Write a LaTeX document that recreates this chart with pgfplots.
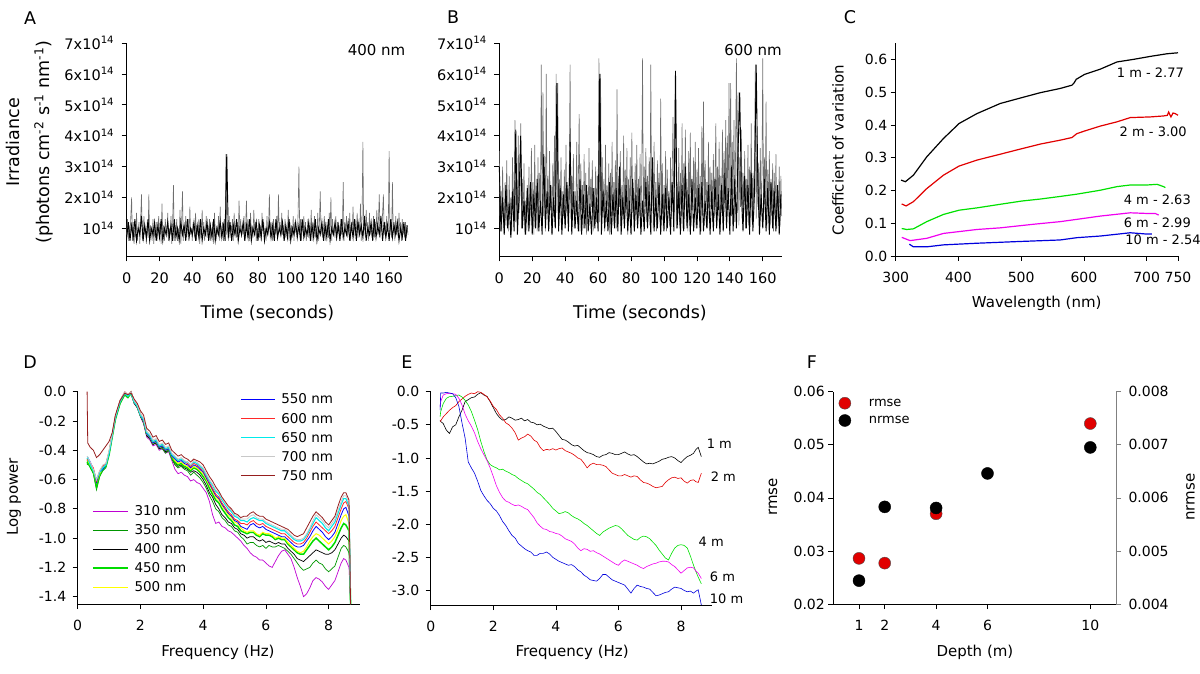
\documentclass[border=0pt]{standalone}
\usepackage{pgfplots}
\usepackage{pgfplotstable}
\pgfplotsset{compat=1.18}
\usepackage{fontspec}
\setmainfont{DejaVu Sans}

\definecolor{dViolet}{RGB}{190,0,210}
\definecolor{dGreen}{RGB}{0,150,0}
\definecolor{dLime}{RGB}{0,220,0}
\definecolor{dYellow}{RGB}{255,255,0}
\definecolor{dBlue}{RGB}{0,0,255}
\definecolor{dRed}{RGB}{255,40,40}
\definecolor{dCyan}{RGB}{0,235,235}
\definecolor{dGray}{RGB}{200,200,200}
\definecolor{dBrown}{RGB}{150,30,30}
\definecolor{cRed}{RGB}{225,0,0}
\definecolor{cGreen}{RGB}{0,225,0}
\definecolor{cMag}{RGB}{240,0,240}
\definecolor{cBlue}{RGB}{0,0,220}
\definecolor{tsGray}{RGB}{110,110,110}

% time series (gray trace), irradiance in units of 1e13
\pgfplotstableread{
t a b
0 8 35
0.5 13 12
1 6 22
1.5 11 9
2 7 30
2.5 14 14
3 20 8
3.5 6 25
4 12 11
4.5 5 32
5 10 16
5.5 7 9
6 15 27
6.5 6 13
7 9 20
7.5 12 8
8 5 33
8.5 13 15
9 21 24
9.5 7 45
10 6 12
10.5 14 28
11 8 9
11.5 10 40
12 5 15
12.5 12 22
13 7 44
13.5 21 10
14 6 26
14.5 11 14
15 9 31
15.5 6 8
16 13 19
16.5 5 12
17 10 24
17.5 7 9
18 12 30
18.5 6 11
19 9 17
19.5 14 36
20 7 13
20.5 12 25
21 5 8
21.5 18 37
22 8 15
22.5 11 22
23 6 9
23.5 13 33
24 9 12
24.5 7 28
25 15 16
25.5 6 63
26 10 10
26.5 8 54
27 14 14
27.5 5 30
28 12 9
28.5 24 60
29 6 18
29.5 11 27
30 8 12
30.5 13 35
31 6 16
31.5 10 24
32 7 8
32.5 16 31
33 5 14
33.5 12 40
34 22 11
34.5 6 60
35 11 15
35.5 8 57
36 14 9
36.5 7 26
37 9 18
37.5 13 33
38 6 10
38.5 17 22
39 8 14
39.5 10 29
40 6 11
40.5 12 37
41 9 15
41.5 7 24
42 15 9
42.5 6 30
43 11 63
43.5 8 13
44 13 27
44.5 5 17
45 10 34
45.5 7 10
46 16 22
46.5 8 14
47 12 38
47.5 6 12
48 9 25
48.5 14 47
49 7 9
49.5 11 31
50 8 16
50.5 13 24
51 6 10
51.5 10 34
52 7 13
52.5 12 28
53 5 8
53.5 15 21
54 9 15
54.5 6 36
55 11 11
55.5 8 26
56 14 17
56.5 6 32
57 17 9
57.5 7 23
58 10 14
58.5 12 30
59 6 12
59.5 13 27
60 9 18
60.5 34 65
61 8 12
61.5 12 60
62 6 10
62.5 14 33
63 7 15
63.5 11 26
64 9 9
64.5 13 37
65 6 12
65.5 15 24
66 8 16
66.5 10 31
67 7 8
67.5 12 28
68 6 14
68.5 19 38
69 9 11
69.5 13 25
70 7 15
70.5 11 32
71 8 10
71.5 14 55
72 6 13
72.5 10 27
73 19 17
73.5 7 35
74 13 9
74.5 9 24
75 6 14
75.5 15 40
76 8 11
76.5 11 29
77 7 16
77.5 16 36
78 9 8
78.5 12 26
79 6 13
79.5 10 33
80 8 12
80.5 13 41
81 7 15
81.5 11 23
82 6 9
82.5 15 31
83 9 16
83.5 12 37
84 7 11
84.5 10 26
85 6 14
85.5 14 34
86 8 10
86.5 11 28
87 21 65
87.5 7 13
88 12 30
88.5 9 17
89 6 36
89.5 13 12
90 7 27
90.5 10 15
91 8 33
91.5 14 11
92 6 63
92.5 21 16
93 9 29
93.5 12 10
94 7 38
94.5 15 14
95 8 25
95.5 11 9
96 6 32
96.5 13 17
97 7 28
97.5 10 12
98 9 52
98.5 16 15
99 6 31
99.5 12 10
100 8 24
100.5 11 13
101 7 35
101.5 14 9
102 6 29
102.5 12 16
103 9 22
103.5 10 11
104 7 33
104.5 15 14
105 30 27
105.5 8 46
106 13 12
106.5 6 30
107 11 61
107.5 9 10
108 14 25
108.5 7 15
109 12 36
109.5 6 11
110 9 28
110.5 13 14
111 7 44
111.5 11 10
112 8 31
112.5 16 16
113 6 42
113.5 12 12
114 9 26
114.5 14 9
115 7 35
115.5 10 15
116 8 41
116.5 15 11
117 6 24
117.5 12 17
118 22 33
118.5 8 13
119 11 38
119.5 7 10
120 10 29
120.5 14 15
121 6 36
121.5 12 12
122 8 27
122.5 11 9
123 7 43
123.5 15 14
124 9 51
124.5 20 11
125 6 32
125.5 13 16
126 8 25
126.5 10 10
127 7 38
127.5 14 13
128 6 30
128.5 12 17
129 9 28
129.5 11 12
130 7 34
130.5 13 14
131 8 26
131.5 10 44
132 25 11
132.5 6 30
133 12 16
133.5 9 38
134 14 10
134.5 7 27
135 11 15
135.5 8 42
136 15 12
136.5 6 35
137 12 18
137.5 9 45
138 17 13
138.5 7 40
139 13 16
139.5 8 57
140 9 20
140.5 15 57
141 7 14
141.5 12 38
142 8 19
142.5 18 45
143 6 12
143.5 14 36
144 38 65
144.5 8 15
145 13 54
145.5 7 11
146 16 33
146.5 9 17
147 12 42
147.5 6 13
148 15 28
148.5 8 16
149 11 35
149.5 7 10
150 10 26
150.5 14 14
151 7 37
151.5 12 11
152 9 30
152.5 16 16
153 8 44
153.5 13 12
154 21 28
154.5 7 15
155 11 34
155.5 9 63
156 15 13
156.5 21 40
157 8 17
157.5 12 31
158 7 10
158.5 14 36
159 9 14
159.5 11 27
160 35 65
160.5 8 12
161 13 33
161.5 7 16
162 25 51
162.5 9 10
163 12 29
163.5 6 15
164 14 35
164.5 8 11
165 11 26
165.5 7 14
166 15 31
166.5 9 9
167 12 28
167.5 6 13
168 13 34
168.5 8 10
169 10 24
169.5 7 12
170 12 30
170.5 7 11
171 11 27
171.5 8 14
}\tabAB

% black core trace, units of 1e13
\pgfplotstableread{
t ca cb
0 7 30
1 12 9
2 6 20
3 11 8
4 7 24
5 13 10
6 6 18
7 10 7
8 8 22
9 14 9
10 6 42
11 11 8
12 7 21
13 13 40
14 6 10
15 10 19
16 8 8
17 12 23
18 6 9
19 11 25
20 7 8
21 13 21
22 6 10
23 10 26
24 8 9
25 12 19
26 7 8
27 11 34
28 6 10
29 13 22
30 7 9
31 10 24
32 6 8
33 12 20
34 8 10
35 11 57
36 6 9
37 13 23
38 7 8
39 10 21
40 8 10
41 12 25
42 6 9
43 11 38
44 7 8
45 13 22
46 6 10
47 10 19
48 8 9
49 12 26
50 6 8
51 11 21
52 7 10
53 13 24
54 6 9
55 10 18
56 8 8
57 12 23
58 7 10
59 11 20
60 6 9
61 34 60
62 7 8
63 12 22
64 6 10
65 11 19
66 8 9
67 13 25
68 6 8
69 10 21
70 8 10
71 12 23
72 6 9
73 11 30
74 7 8
75 13 20
76 6 10
77 10 24
78 8 9
79 12 19
80 6 8
81 11 26
82 7 9
83 13 21
84 6 10
85 10 23
86 8 8
87 12 19
88 7 9
89 11 25
90 6 10
91 13 22
92 7 8
93 10 33
94 8 9
95 12 20
96 6 10
97 11 24
98 7 8
99 13 21
100 6 9
101 10 23
102 8 10
103 12 20
104 7 8
105 11 25
106 6 9
107 13 61
108 7 10
109 10 22
110 8 8
111 12 24
112 6 9
113 11 30
114 7 10
115 13 21
116 6 8
117 10 26
118 8 9
119 12 20
120 6 10
121 11 23
122 7 8
123 13 25
124 6 9
125 10 19
126 8 10
127 12 24
128 7 8
129 11 22
130 6 9
131 13 26
132 7 10
133 10 21
134 8 8
135 12 24
136 6 9
137 11 28
138 7 10
139 13 23
140 6 8
141 12 30
142 8 9
143 11 26
144 7 10
145 14 35
146 6 54
147 10 22
148 8 9
149 12 27
150 6 10
151 13 24
152 7 8
153 11 28
154 8 9
155 14 22
156 6 63
157 12 25
158 7 8
159 11 21
160 6 10
161 13 26
162 7 9
163 11 23
164 8 8
165 12 25
166 6 10
167 10 22
168 7 9
169 12 24
170 6 8
171 11 21
}\tabCore

\pgfplotstableread{
f w310 w350 w400 w450 w500 w550 w600 w650 w700 w750
0.30 -0.48 -0.50 -0.47 -0.49 -0.46 -0.45 -0.47 -0.46 -0.44 0.00
0.32 -0.47 -0.49 -0.46 -0.48 -0.47 -0.45 -0.46 -0.45 -0.45 -0.35
0.40 -0.50 -0.52 -0.49 -0.51 -0.50 -0.48 -0.49 -0.50 -0.48 -0.38
0.50 -0.55 -0.56 -0.54 -0.55 -0.54 -0.53 -0.52 -0.54 -0.53 -0.40
0.60 -0.66 -0.67 -0.63 -0.65 -0.62 -0.62 -0.61 -0.60 -0.60 -0.45
0.70 -0.56 -0.58 -0.55 -0.57 -0.56 -0.55 -0.54 -0.55 -0.54 -0.43
0.80 -0.52 -0.54 -0.53 -0.53 -0.52 -0.53 -0.51 -0.52 -0.50 -0.40
0.90 -0.51 -0.52 -0.50 -0.51 -0.50 -0.50 -0.49 -0.50 -0.49 -0.37
1.00 -0.42 -0.43 -0.42 -0.43 -0.41 -0.42 -0.41 -0.42 -0.40 -0.34
1.10 -0.31 -0.31 -0.30 -0.31 -0.30 -0.30 -0.29 -0.30 -0.29 -0.28
1.20 -0.18 -0.19 -0.18 -0.19 -0.17 -0.18 -0.17 -0.18 -0.17 -0.16
1.35 -0.08 -0.08 -0.07 -0.08 -0.07 -0.07 -0.06 -0.07 -0.06 -0.06
1.50 -0.02 -0.01 -0.01 -0.02 -0.01 -0.01 0.00 -0.01 0.00 -0.01
1.60 -0.04 -0.03 -0.03 -0.04 -0.03 -0.03 -0.02 -0.03 -0.02 -0.02
1.70 -0.01 0.00 -0.01 -0.01 0.00 0.00 0.00 -0.01 0.00 -0.01
1.80 -0.08 -0.07 -0.08 -0.07 -0.07 -0.07 -0.06 -0.07 -0.06 -0.05
1.90 -0.11 -0.10 -0.11 -0.10 -0.10 -0.10 -0.09 -0.10 -0.09 -0.08
2.00 -0.17 -0.16 -0.17 -0.16 -0.16 -0.16 -0.15 -0.16 -0.15 -0.13
2.10 -0.22 -0.21 -0.21 -0.20 -0.20 -0.20 -0.19 -0.19 -0.18 -0.16
2.20 -0.31 -0.30 -0.30 -0.29 -0.29 -0.29 -0.28 -0.28 -0.27 -0.25
2.30 -0.33 -0.32 -0.32 -0.31 -0.31 -0.31 -0.30 -0.30 -0.29 -0.27
2.40 -0.37 -0.36 -0.36 -0.35 -0.35 -0.35 -0.34 -0.34 -0.33 -0.31
2.50 -0.36 -0.35 -0.35 -0.34 -0.34 -0.34 -0.33 -0.33 -0.32 -0.30
2.60 -0.40 -0.39 -0.39 -0.38 -0.38 -0.38 -0.37 -0.37 -0.36 -0.34
2.70 -0.39 -0.39 -0.38 -0.37 -0.37 -0.37 -0.36 -0.36 -0.35 -0.33
2.80 -0.42 -0.42 -0.41 -0.40 -0.40 -0.40 -0.39 -0.39 -0.38 -0.36
2.90 -0.41 -0.40 -0.40 -0.39 -0.39 -0.39 -0.38 -0.38 -0.37 -0.35
3.00 -0.47 -0.46 -0.45 -0.45 -0.44 -0.44 -0.43 -0.43 -0.42 -0.40
3.10 -0.53 -0.50 -0.49 -0.48 -0.47 -0.46 -0.45 -0.45 -0.44 -0.42
3.20 -0.56 -0.52 -0.51 -0.50 -0.49 -0.48 -0.47 -0.47 -0.46 -0.44
3.30 -0.55 -0.51 -0.50 -0.49 -0.48 -0.47 -0.46 -0.46 -0.45 -0.43
3.40 -0.57 -0.53 -0.52 -0.51 -0.50 -0.49 -0.48 -0.48 -0.47 -0.45
3.50 -0.58 -0.54 -0.53 -0.52 -0.51 -0.50 -0.49 -0.48 -0.48 -0.46
3.60 -0.61 -0.57 -0.55 -0.54 -0.53 -0.52 -0.51 -0.50 -0.50 -0.48
3.70 -0.60 -0.55 -0.54 -0.52 -0.51 -0.50 -0.49 -0.48 -0.47 -0.46
3.80 -0.62 -0.57 -0.55 -0.53 -0.52 -0.51 -0.50 -0.49 -0.48 -0.47
3.90 -0.63 -0.59 -0.57 -0.55 -0.54 -0.53 -0.52 -0.51 -0.50 -0.48
4.00 -0.66 -0.62 -0.60 -0.58 -0.56 -0.55 -0.54 -0.53 -0.52 -0.50
4.10 -0.69 -0.66 -0.64 -0.61 -0.60 -0.59 -0.58 -0.57 -0.56 -0.54
4.20 -0.75 -0.71 -0.69 -0.66 -0.64 -0.63 -0.62 -0.61 -0.60 -0.58
4.30 -0.84 -0.75 -0.72 -0.70 -0.68 -0.67 -0.66 -0.64 -0.63 -0.61
4.40 -0.90 -0.80 -0.77 -0.74 -0.72 -0.71 -0.70 -0.68 -0.67 -0.65
4.50 -0.89 -0.82 -0.80 -0.76 -0.74 -0.73 -0.72 -0.70 -0.69 -0.68
4.60 -0.92 -0.86 -0.84 -0.80 -0.78 -0.77 -0.76 -0.74 -0.73 -0.72
4.70 -0.93 -0.88 -0.86 -0.83 -0.81 -0.80 -0.79 -0.77 -0.76 -0.75
4.80 -0.95 -0.91 -0.89 -0.86 -0.84 -0.83 -0.82 -0.80 -0.79 -0.78
4.90 -0.96 -0.92 -0.90 -0.88 -0.86 -0.85 -0.84 -0.82 -0.81 -0.80
5.00 -0.98 -0.95 -0.93 -0.91 -0.89 -0.88 -0.87 -0.85 -0.84 -0.83
5.10 -1.00 -0.96 -0.94 -0.92 -0.90 -0.89 -0.88 -0.86 -0.85 -0.84
5.20 -1.02 -0.99 -0.97 -0.95 -0.93 -0.92 -0.90 -0.88 -0.87 -0.86
5.30 -1.05 -1.01 -0.98 -0.96 -0.95 -0.93 -0.90 -0.88 -0.87 -0.85
5.40 -1.07 -1.04 -1.00 -0.97 -0.96 -0.94 -0.91 -0.89 -0.87 -0.85
5.50 -1.10 -1.03 -0.99 -0.96 -0.95 -0.91 -0.89 -0.87 -0.85 -0.83
5.60 -1.12 -1.03 -0.99 -0.96 -0.95 -0.90 -0.88 -0.86 -0.84 -0.82
5.70 -1.13 -1.05 -1.01 -0.98 -0.97 -0.92 -0.90 -0.87 -0.86 -0.84
5.80 -1.15 -1.06 -1.02 -0.99 -0.98 -0.93 -0.91 -0.88 -0.87 -0.85
5.90 -1.15 -1.05 -1.01 -0.97 -0.96 -0.92 -0.90 -0.88 -0.87 -0.85
6.00 -1.17 -1.07 -1.03 -0.98 -0.97 -0.94 -0.92 -0.90 -0.89 -0.87
6.10 -1.19 -1.05 -1.02 -0.98 -0.97 -0.95 -0.93 -0.91 -0.90 -0.88
6.20 -1.20 -1.06 -1.03 -0.99 -0.98 -0.96 -0.94 -0.92 -0.91 -0.89
6.30 -1.16 -1.06 -1.04 -1.01 -1.00 -0.97 -0.95 -0.93 -0.92 -0.90
6.40 -1.12 -1.05 -1.03 -1.00 -0.99 -0.98 -0.96 -0.94 -0.93 -0.91
6.50 -1.09 -1.06 -1.04 -1.01 -1.00 -0.99 -0.97 -0.95 -0.94 -0.92
6.60 -1.08 -1.07 -1.04 -1.01 -1.00 -0.99 -0.97 -0.95 -0.94 -0.93
6.70 -1.11 -1.09 -1.07 -1.04 -1.03 -1.01 -0.99 -0.97 -0.96 -0.94
6.80 -1.14 -1.11 -1.09 -1.06 -1.05 -1.03 -1.01 -0.99 -0.98 -0.96
6.90 -1.20 -1.14 -1.11 -1.08 -1.07 -1.05 -1.03 -1.01 -1.00 -0.98
7.00 -1.27 -1.17 -1.14 -1.10 -1.09 -1.06 -1.04 -1.02 -1.01 -0.99
7.10 -1.33 -1.20 -1.15 -1.11 -1.10 -1.06 -1.04 -1.02 -1.01 -0.98
7.20 -1.40 -1.22 -1.16 -1.11 -1.09 -1.05 -1.03 -1.01 -1.00 -0.97
7.30 -1.38 -1.21 -1.14 -1.08 -1.06 -1.02 -1.00 -0.98 -0.97 -0.93
7.40 -1.34 -1.20 -1.12 -1.05 -1.02 -0.99 -0.96 -0.94 -0.93 -0.89
7.50 -1.29 -1.17 -1.10 -1.02 -0.99 -0.95 -0.92 -0.90 -0.88 -0.85
7.60 -1.27 -1.15 -1.08 -1.00 -0.97 -0.92 -0.89 -0.86 -0.84 -0.82
7.70 -1.28 -1.17 -1.09 -1.02 -0.98 -0.94 -0.91 -0.88 -0.86 -0.84
7.80 -1.30 -1.18 -1.10 -1.04 -1.00 -0.96 -0.93 -0.90 -0.88 -0.86
7.90 -1.33 -1.21 -1.11 -1.06 -1.02 -0.99 -0.95 -0.93 -0.91 -0.89
8.00 -1.35 -1.23 -1.11 -1.08 -1.04 -1.01 -0.97 -0.95 -0.93 -0.91
8.10 -1.32 -1.21 -1.10 -1.06 -1.02 -0.99 -0.95 -0.92 -0.90 -0.88
8.20 -1.29 -1.19 -1.08 -1.03 -0.99 -0.96 -0.92 -0.89 -0.87 -0.85
8.30 -1.23 -1.13 -1.04 -0.98 -0.94 -0.90 -0.86 -0.83 -0.81 -0.78
8.40 -1.17 -1.07 -1.00 -0.93 -0.88 -0.84 -0.80 -0.77 -0.75 -0.72
8.48 -1.14 -1.05 -0.98 -0.90 -0.85 -0.80 -0.76 -0.73 -0.71 -0.69
8.55 -1.15 -1.06 -0.99 -0.91 -0.84 -0.79 -0.75 -0.73 -0.71 -0.69
8.65 -1.20 -1.10 -1.02 -0.95 -0.90 -0.85 -0.80 -0.78 -0.76 -0.74
8.70 -1.45 -1.45 -1.45 -1.45 -1.45 -1.45 -1.45 -1.45 -1.45 -1.45
}\tabD

\pgfplotstableread{
f m1 m2 m4 m6 m10
0.30 -0.43 -0.45 -0.38 -0.23 -0.28
0.32 -0.45 -0.44 -0.30 -0.15 -0.02
0.40 -0.48 -0.38 -0.18 -0.05 -0.02
0.50 -0.58 -0.33 -0.10 -0.03 -0.01
0.60 -0.63 -0.28 -0.075 -0.025 -0.02
0.70 -0.53 -0.24 -0.07 -0.03 -0.03
0.80 -0.50 -0.21 -0.06 -0.04 -0.09
0.90 -0.38 -0.15 -0.05 -0.10 -0.22
1.00 -0.28 -0.11 -0.08 -0.20 -0.47
1.10 -0.15 -0.07 -0.13 -0.34 -0.70
1.20 -0.12 -0.04 -0.20 -0.44 -1.06
1.30 -0.09 -0.02 -0.30 -0.52 -1.15
1.40 -0.08 -0.03 -0.43 -0.62 -1.23
1.50 -0.04 0.00 -0.57 -0.75 -1.35
1.60 -0.015 -0.01 -0.75 -0.86 -1.49
1.70 -0.05 -0.04 -0.90 -0.95 -1.57
1.80 -0.07 -0.08 -1.03 -1.04 -1.64
1.90 -0.15 -0.14 -1.10 -1.15 -1.69
2.00 -0.24 -0.22 -1.13 -1.28 -1.76
2.10 -0.33 -0.27 -1.15 -1.42 -1.80
2.20 -0.39 -0.35 -1.18 -1.52 -1.87
2.30 -0.43 -0.40 -1.17 -1.60 -1.96
2.40 -0.42 -0.47 -1.20 -1.65 -2.02
2.50 -0.38 -0.50 -1.22 -1.67 -2.10
2.60 -0.40 -0.55 -1.25 -1.70 -2.17
2.70 -0.43 -0.62 -1.27 -1.72 -2.21
2.80 -0.42 -0.73 -1.31 -1.71 -2.29
2.90 -0.40 -0.70 -1.34 -1.73 -2.33
3.00 -0.44 -0.68 -1.37 -1.76 -2.37
3.10 -0.42 -0.64 -1.39 -1.78 -2.40
3.20 -0.46 -0.67 -1.43 -1.84 -2.42
3.30 -0.47 -0.73 -1.47 -1.90 -2.47
3.40 -0.50 -0.76 -1.52 -1.98 -2.47
3.50 -0.49 -0.84 -1.55 -2.03 -2.44
3.60 -0.52 -0.89 -1.60 -2.07 -2.44
3.70 -0.54 -0.87 -1.65 -2.08 -2.42
3.80 -0.56 -0.88 -1.70 -2.11 -2.45
3.90 -0.55 -0.86 -1.76 -2.12 -2.50
4.00 -0.60 -0.88 -1.80 -2.14 -2.53
4.10 -0.66 -0.86 -1.84 -2.15 -2.56
4.20 -0.72 -0.85 -1.83 -2.18 -2.58
4.30 -0.73 -0.89 -1.81 -2.22 -2.60
4.40 -0.76 -0.91 -1.83 -2.24 -2.62
4.50 -0.80 -0.93 -1.87 -2.26 -2.61
4.60 -0.82 -0.96 -1.90 -2.30 -2.64
4.70 -0.81 -1.00 -1.92 -2.36 -2.69
4.80 -0.85 -1.02 -1.95 -2.40 -2.72
4.90 -0.89 -1.08 -1.99 -2.37 -2.77
5.00 -0.92 -1.15 -2.02 -2.38 -2.80
5.10 -0.93 -1.10 -2.06 -2.41 -2.84
5.20 -0.95 -1.08 -2.10 -2.40 -2.85
5.30 -0.98 -1.10 -2.14 -2.43 -2.86
5.40 -0.99 -1.10 -2.17 -2.45 -2.82
5.50 -0.96 -1.11 -2.12 -2.48 -2.76
5.60 -0.95 -1.13 -2.09 -2.51 -2.76
5.70 -0.92 -1.18 -2.06 -2.54 -2.80
5.80 -0.93 -1.23 -2.04 -2.57 -2.84
5.90 -0.95 -1.25 -2.02 -2.60 -2.86
6.00 -0.95 -1.27 -2.03 -2.62 -2.88
6.10 -0.93 -1.27 -2.07 -2.57 -2.90
6.20 -0.91 -1.25 -2.12 -2.54 -2.92
6.30 -0.94 -1.27 -2.17 -2.56 -2.98
6.40 -0.96 -1.29 -2.20 -2.58 -3.04
6.50 -0.95 -1.27 -2.23 -2.60 -2.97
6.60 -0.98 -1.28 -2.24 -2.62 -2.92
6.70 -1.02 -1.33 -2.20 -2.65 -2.94
6.80 -1.06 -1.37 -2.18 -2.67 -2.95
6.90 -1.09 -1.38 -2.19 -2.64 -2.97
7.00 -1.08 -1.40 -2.22 -2.62 -2.98
7.10 -1.09 -1.43 -2.27 -2.60 -3.03
7.20 -1.07 -1.45 -2.32 -2.59 -3.08
7.30 -1.05 -1.44 -2.39 -2.57 -3.07
7.40 -1.02 -1.43 -2.45 -2.56 -3.05
7.50 -1.01 -1.37 -2.51 -2.56 -3.03
7.60 -0.99 -1.33 -2.54 -2.57 -3.02
7.70 -0.98 -1.30 -2.44 -2.61 -2.98
7.80 -1.00 -1.29 -2.36 -2.64 -2.95
7.90 -1.04 -1.31 -2.32 -2.69 -2.96
8.00 -1.07 -1.30 -2.31 -2.74 -2.97
8.10 -1.02 -1.35 -2.32 -2.70 -3.00
8.20 -0.98 -1.38 -2.36 -2.66 -3.02
8.30 -0.96 -1.34 -2.48 -2.65 -3.01
8.40 -0.93 -1.33 -2.62 -2.66 -3.04
8.48 -0.87 -1.36 -2.72 -2.71 -3.01
8.55 -0.84 -1.37 -2.80 -2.74 -2.99
8.65 -0.98 -1.23 -2.90 -2.82 -3.22
}\tabE

\pgfplotsset{
  base/.style={
    scale only axis, anchor=south west, clip=false,
    axis x line*=bottom, axis y line*=left,
    tick align=outside, major tick length=5pt,
    tick style={black, line width=0.7pt},
    axis line style={line width=0.7pt},
    tick label style={font=\fontsize{14}{16}\selectfont},
    xticklabel style={yshift=-8pt},
    label style={font=\fontsize{15}{18}\selectfont},
    xlabel style={anchor=center}, ylabel style={anchor=center},
    scaled ticks=false,
  },
}

\begin{document}
\begin{tikzpicture}
\useasboundingbox (0pt,0pt) rectangle (1200pt,673pt);

% ---------------- A ----------------
\begin{axis}[base, at={(126.7pt,416.5pt)}, width=281.3pt, height=213.5pt,
  xmin=0, xmax=171.5, ymin=0.9, ymax=70,
  xtick={0,20,40,60,80,100,120,140,160},
  xticklabels={0,20,40,60,80,100,120,140,160},
  ytick={10,20,30,40,50,60,70},
  yticklabels={10\textsuperscript{14},2x10\textsuperscript{14},3x10\textsuperscript{14},4x10\textsuperscript{14},5x10\textsuperscript{14},6x10\textsuperscript{14},7x10\textsuperscript{14}},
  tick label style={font=\fontsize{14.5}{16}\selectfont},
  yticklabel style={xshift=-4pt},
  label style={font=\fontsize{17.5}{30}\selectfont},
  xlabel={Time (seconds)},
  xlabel style={at={(axis description cs:0.5,-0.263)}},
  ylabel={Irradiance\\(photons cm\textsuperscript{-2} s\textsuperscript{-1} nm\textsuperscript{-1})},
  ylabel style={align=center, at={(axis description cs:-0.344,0.535)}},
]
\addplot[tsGray, line width=0.6pt] table[x=t, y=a] {\tabAB};
\addplot[black, line width=0.9pt] table[x=t, y=ca] {\tabCore};
\node[font=\fontsize{15}{18}\selectfont] at (axis cs:152.3,67.7) {400 nm};
\end{axis}

% ---------------- B ----------------
\begin{axis}[base, at={(499.3pt,416.5pt)}, width=282.4pt, height=213.5pt,
  xmin=0, xmax=171.5, ymin=0.9, ymax=70,
  xtick={0,20,40,60,80,100,120,140,160},
  xticklabels={0,20,40,60,80,100,120,140,160},
  ytick={10,20,30,40,50,60,70},
  yticklabels={10\textsuperscript{14},2x10\textsuperscript{14},3x10\textsuperscript{14},4x10\textsuperscript{14},5x10\textsuperscript{14},6x10\textsuperscript{14},7x10\textsuperscript{14}},
  tick label style={font=\fontsize{14.5}{16}\selectfont},
  yticklabel style={xshift=-4pt},
  label style={font=\fontsize{17.5}{20}\selectfont},
  xlabel={Time (seconds)},
  xlabel style={at={(axis description cs:0.498,-0.263)}},
]
\addplot[tsGray, line width=0.6pt] table[x=t, y=b] {\tabAB};
\addplot[black, line width=0.9pt] table[x=t, y=cb] {\tabCore};
\node[font=\fontsize{15}{18}\selectfont] at (axis cs:154.1,67.7) {600 nm};
\end{axis}

% ---------------- C ----------------
\begin{axis}[base, at={(895.7pt,417pt)}, width=282.3pt, height=212.7pt,
  xmin=300, xmax=750, ymin=0, ymax=0.65,
  xtick={300,400,500,600,700,750},
  xticklabels={300,400,500,600,700,750},
  ytick={0,0.1,0.2,0.3,0.4,0.5,0.6},
  yticklabels={0.0,0.1,0.2,0.3,0.4,0.5,0.6},
  xlabel={Wavelength (nm)},
  xlabel style={at={(axis description cs:0.4995,-0.221)}},
  ylabel={Coefficient of variation},
  ylabel style={at={(axis description cs:-0.204,0.498)}},
]
\addplot[black, line width=1.2pt] coordinates {(308.5,0.232)(315.4,0.227)(328.2,0.247)(349.5,0.303)(376.1,0.359)(401.1,0.405)(429.3,0.435)(466.5,0.466)(501.1,0.484)(530.3,0.499)(562.2,0.512)(580.9,0.522)(584,0.528)(587.8,0.54)(601.1,0.555)(626.1,0.571)(652.7,0.593)(679.3,0.601)(705.9,0.610)(732.4,0.618)(750,0.621)};
\addplot[cRed, line width=1.2pt] coordinates {(309.6,0.159)(316.5,0.153)(328.2,0.166)(349.5,0.206)(376.1,0.247)(401.1,0.275)(429.3,0.293)(466.5,0.311)(501.1,0.328)(530.3,0.342)(562.2,0.354)(580.9,0.362)(588.8,0.374)(601.1,0.382)(626.1,0.397)(652.7,0.41)(673.9,0.423)(705.9,0.425)(727.1,0.428)(733,0.43)(735.1,0.44)(737,0.432)(738.8,0.425)(742,0.437)(745.7,0.435)(750,0.43)};
\addplot[cGreen, line width=1.2pt] coordinates {(309.6,0.084)(317.6,0.081)(328.2,0.083)(349.5,0.105)(376.1,0.127)(401.1,0.14)(429.3,0.147)(466.5,0.158)(501.1,0.168)(530.3,0.174)(562.2,0.182)(588.8,0.189)(626.1,0.201)(652.7,0.212)(673.9,0.217)(700.5,0.217)(716.5,0.219)(727.1,0.212)(729.8,0.209)};
\addplot[cMag, line width=1.2pt] coordinates {(309.6,0.057)(322.9,0.047)(349.5,0.054)(376.1,0.069)(429.3,0.081)(466.5,0.086)(519.7,0.097)(562.2,0.105)(588.8,0.112)(626.1,0.122)(673.9,0.132)(700.5,0.13)(713.8,0.13)(719.1,0.125)};
\addplot[cBlue, line width=1.2pt] coordinates {(321.8,0.036)(328.2,0.028)(349.5,0.028)(376.1,0.034)(429.3,0.039)(493.1,0.044)(562.2,0.049)(588.8,0.056)(626.1,0.061)(673.9,0.071)(700.5,0.067)(708.5,0.067)};
\begin{scope}[font=\fontsize{13}{15}\selectfont]
\node[anchor=west] at (axis cs:647,0.559) {1 m - 2.77};
\node[anchor=west] at (axis cs:651.5,0.381) {2 m - 3.00};
\node[anchor=west] at (axis cs:658,0.171) {4 m - 2.63};
\node[anchor=west] at (axis cs:658,0.102) {6 m - 2.99};
\node[anchor=west] at (axis cs:660.6,0.051) {10 m - 2.54};
\end{scope}
\end{axis}

% ---------------- D ----------------
\begin{axis}[base, at={(77.7pt,69pt)}, width=282.3pt, height=212.3pt,
  xmin=0, xmax=9, ymin=-1.45, ymax=0,
  xtick={0,2,4,6,8}, xticklabels={0,2,4,6,8},
  ytick={-1.4,-1.2,-1.0,-0.8,-0.6,-0.4,-0.2,0},
  yticklabels={-1.4,-1.2,-1.0,-0.8,-0.6,-0.4,-0.2,0.0},
  yticklabel style={xshift=-3pt},
  xlabel={Frequency (Hz)},
  xlabel style={at={(axis description cs:0.497,-0.226)}},
  ylabel={Log power},
  ylabel style={at={(axis description cs:-0.226,0.504)}},
  legend cell align=left,
  legend image code/.code={\draw[#1] (0pt,0pt) -- (35pt,0pt);},
  legend style={at={(axis description cs:0.05,0.47)}, anchor=north west,
    draw=none, fill=none, inner sep=0pt, font=\fontsize{13.5}{15}\selectfont,
    nodes={inner sep=1pt}, row sep=5.5pt, column sep=5pt},
]
\addplot[dViolet, line width=0.7pt] table[x=f, y=w310] {\tabD};
\addlegendentry{310 nm}
\addplot[dGreen, line width=0.7pt] table[x=f, y=w350] {\tabD};
\addlegendentry{350 nm}
\addplot[black, line width=0.7pt] table[x=f, y=w400] {\tabD};
\addlegendentry{400 nm}
\addplot[dLime, line width=1.5pt] table[x=f, y=w450] {\tabD};
\addlegendentry{450 nm}
\addplot[dYellow, line width=1.0pt] table[x=f, y=w500] {\tabD};
\addlegendentry{500 nm}
\end{axis}
\begin{axis}[scale only axis, anchor=south west, at={(77.7pt,69pt)}, width=282.3pt, height=212.3pt,
  xmin=0, xmax=9, ymin=-1.45, ymax=0, hide axis, clip=false,
  legend cell align=left,
  legend image code/.code={\draw[#1] (0pt,0pt) -- (34pt,0pt);},
  legend style={at={(axis description cs:0.575,0.995)}, anchor=north west,
    draw=none, fill=none, inner sep=0pt, font=\fontsize{13.5}{15}\selectfont,
    nodes={inner sep=1pt}, row sep=5.5pt, column sep=5pt},
]
\addplot[dBlue, line width=0.8pt] table[x=f, y=w550] {\tabD};
\addlegendentry{550 nm}
\addplot[dRed, line width=0.8pt] table[x=f, y=w600] {\tabD};
\addlegendentry{600 nm}
\addplot[dCyan, line width=1.1pt] table[x=f, y=w650] {\tabD};
\addlegendentry{650 nm}
\addplot[dGray, line width=0.8pt] table[x=f, y=w700] {\tabD};
\addlegendentry{700 nm}
\addplot[dBrown, line width=0.8pt] table[x=f, y=w750] {\tabD};
\addlegendentry{750 nm}
\end{axis}

% ---------------- E ----------------
\begin{axis}[base, at={(430.7pt,68pt)}, width=281.6pt, height=213.3pt,
  xmin=0, xmax=9, ymin=-3.22, ymax=0,
  xtick={0,2,4,6,8}, xticklabels={0,2,4,6,8},
  ytick={-3,-2.5,-2,-1.5,-1,-0.5,0},
  yticklabels={-3.0,-2.5,-2.0,-1.5,-1.0,-0.5,0.0},
  yticklabel style={xshift=-3pt},
  xlabel={Frequency (Hz)},
  xlabel style={at={(axis description cs:0.502,-0.22)}},
]
\addplot[black, line width=0.6pt] table[x=f, y=m1] {\tabE};
\addplot[cRed, line width=0.6pt] table[x=f, y=m2] {\tabE};
\addplot[cGreen, line width=0.6pt] table[x=f, y=m4] {\tabE};
\addplot[cMag, line width=0.6pt] table[x=f, y=m6] {\tabE};
\addplot[cBlue, line width=0.6pt] table[x=f, y=m10] {\tabE};
\begin{scope}[font=\fontsize{13}{15}\selectfont]
\node[anchor=west] at (axis cs:8.71,-0.78) {1 m};
\node[anchor=west] at (axis cs:8.84,-1.28) {2 m};
\node[anchor=west] at (axis cs:8.45,-2.26) {4 m};
\node[anchor=west] at (axis cs:8.81,-2.80) {6 m};
\node[anchor=west] at (axis cs:8.81,-3.12) {10 m};
\end{scope}
\end{axis}

% ---------------- F ----------------
\begin{axis}[base, at={(833.3pt,69pt)}, width=282.7pt, height=212.3pt,
  xmin=0, xmax=11, ymin=0.02, ymax=0.06,
  xtick={1,2,4,6,10}, xticklabels={1,2,4,6,10},
  ytick={0.02,0.03,0.04,0.05,0.06},
  yticklabels={0.02,0.03,0.04,0.05,0.06},
  xlabel={Depth (m)},
  xlabel style={at={(axis description cs:0.501,-0.226)}},
  ylabel={rmse},
  ylabel style={at={(axis description cs:-0.213,0.504)}},
  legend cell align=left,
  legend image code/.code={\draw[#1] plot coordinates {(0pt,0pt)};},
  legend style={at={(axis description cs:0.019,0.975)}, anchor=north west,
    draw=none, fill=none, inner sep=0pt, font=\fontsize{13}{15}\selectfont,
    nodes={inner sep=1pt}, row sep=5.3pt, column sep=17pt},
]
\addplot[only marks, mark=*, mark size=6pt, mark options={fill=cRed, draw=black!70, line width=0.4pt}]
  coordinates {(1,0.0286)(2,0.0277)(4,0.0370)(10,0.0540)};
\addlegendentry{rmse}
\addlegendimage{only marks, mark=*, mark size=6pt, mark options={fill=black, draw=black}}
\addlegendentry{nrmse}
\end{axis}
\begin{axis}[scale only axis, anchor=south west, at={(833.3pt,69pt)}, width=282.7pt, height=212.3pt,
  clip=false, xmin=0, xmax=11, ymin=0.004, ymax=0.008,
  axis x line=none, axis y line*=right, scaled ticks=false,
  tick align=outside, major tick length=5pt,
  tick style={gray, line width=0.7pt},
  axis line style={gray, line width=0.7pt},
  ytick={0.004,0.005,0.006,0.007,0.008},
  yticklabels={0.004,0.005,0.006,0.007,0.008},
  yticklabel style={font=\fontsize{14}{16}\selectfont, xshift=4pt},
  ylabel={nrmse},
  ylabel style={font=\fontsize{15}{18}\selectfont, anchor=center, at={(axis description cs:1.264,0.504)}},
]
\addplot[only marks, mark=*, mark size=6pt, mark options={fill=black, draw=black}]
  coordinates {(1,0.00444)(2,0.00583)(4,0.00581)(6,0.00646)(10,0.00695)};
\end{axis}

% panel letters
\begin{scope}[font=\fontsize{17.5}{20}\selectfont]
\node at (30pt,655pt) {A};
\node at (453pt,656pt) {B};
\node at (850pt,656pt) {C};
\node at (30pt,311pt) {D};
\node at (407pt,311pt) {E};
\node at (812pt,311pt) {F};
\end{scope}
\end{tikzpicture}
\end{document}
